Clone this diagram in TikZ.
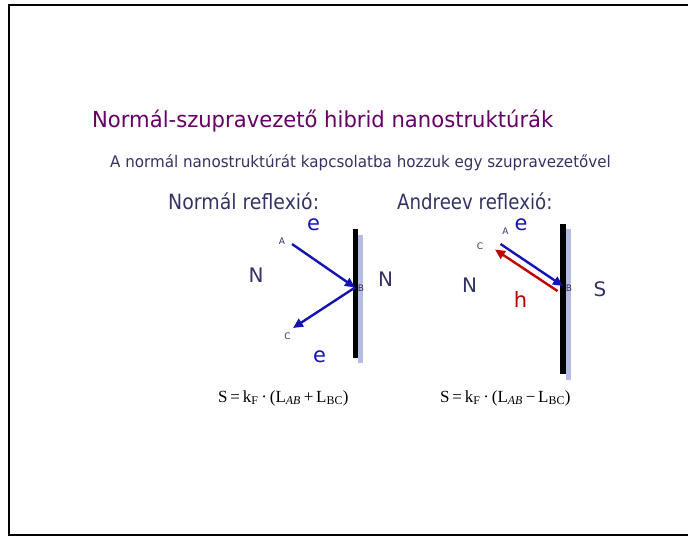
\documentclass[tikz,border=0pt]{standalone}
\usepackage{fontspec}
\usepackage{graphicx}
\setmainfont{DejaVu Sans}
\newfontfamily\serifmath{Liberation Serif}
\usetikzlibrary{arrows.meta}
\definecolor{titlepurple}{HTML}{660066}
\definecolor{slateblue}{HTML}{333366}
\definecolor{arrowblue}{HTML}{1414B4}
\definecolor{holered}{HTML}{C00000}
\definecolor{barblue}{HTML}{B4BCE4}
\tikzset{
  txt/.style={inner sep=0pt, anchor=base west, text=slateblue},
  ptlabel/.style={inner sep=0pt, text=slateblue, font=\fontsize{9}{10}\selectfont},
  region/.style={inner sep=0pt, text=slateblue, font=\fontsize{20}{22}\selectfont},
  particle/.style={inner sep=0pt, anchor=base, text height=1ex, text depth=0pt, font=\fontsize{21}{24}\selectfont},
  ray/.style={line width=2.4pt},
  formula/.style={inner sep=0pt, anchor=base west, font=\serifmath\fontsize{17}{19}\selectfont}
}
\begin{document}
\begin{tikzpicture}[x=1pt,y=-1pt]
\useasboundingbox (0,0) rectangle (688,536);
\fill[white] (0,0) rectangle (688,536);
% frame
\draw[line width=1.3pt] (688,5) -- (9,5) -- (9,535) -- (688,535);
% titles
\node[txt, text=titlepurple, font=\fontsize{22}{26}\selectfont] (title) at (92,127) {\scalebox{0.96}[1]{Normál-szupravezető hibrid nanostruktúrák}};
\node[txt, font=\fontsize{16}{18}\selectfont] (subtitle) at (110,167) {\scalebox{0.945}[1]{A normál nanostruktúrát kapcsolatba hozzuk egy szupravezetővel}};
\node[txt, font=\fontsize{21}{24}\selectfont] (normalhead) at (168,209) {\scalebox{0.9}[1]{Normál reflexió:}};
\node[txt, font=\fontsize{21}{24}\selectfont] (andreevhead) at (397,209.5) {\scalebox{0.866}[1]{Andreev reflexió:}};
% ---- left diagram
\fill[barblue] (357.5,235) rectangle (363,363);
\fill[black] (353,229) rectangle (357.5,358);
\coordinate (LA) at (292,244);
\coordinate (LB) at (355,287.5);
\coordinate (LC) at (293,328);
\node[ptlabel] (lAlab) at (282,241) {A};
\node[ptlabel] (lBlab) at (361,288) {B};
\node[ptlabel] (lClab) at (287.5,336) {C};
\draw[ray, draw=arrowblue, arrows={-{Triangle[length=10pt,width=9pt,fill=arrowblue]}}] (LA) -- (LB);
\draw[ray, draw=arrowblue, arrows={-{Triangle[length=10pt,width=9pt,fill=arrowblue]}}] (LB) -- (LC);
\node[particle, text=arrowblue] (le1) at (313.5,230.5) {e};
\node[particle, text=arrowblue] (le2) at (319.5,362) {e};
\node[region] (lN1) at (256,275) {N};
\node[region] (lN2) at (385.5,279) {N};
% ---- right diagram
\fill[barblue] (565.5,229) rectangle (571,380);
\fill[black] (560.3,224) rectangle (565.5,374);
\coordinate (RA) at (500.5,244);
\coordinate (RB) at (563,286);
\coordinate (RBh) at (557.5,291);
\coordinate (RC) at (495,249.5);
\node[ptlabel] (rAlab) at (505.5,231) {A};
\node[ptlabel] (rBlab) at (569,288.5) {B};
\node[ptlabel] (rClab) at (480,246) {C};
\draw[ray, draw=arrowblue, arrows={-{Triangle[length=10pt,width=9pt,fill=arrowblue]}}] (RA) -- (RB);
\draw[ray, draw=holered, arrows={-{Triangle[length=10pt,width=9pt,fill=holered]}}] (RBh) -- (RC);
\node[particle, text=arrowblue] (re) at (521,230.5) {e};
\node[particle, text=holered, text height=1.5ex] (rh) at (520.5,307) {h};
\node[region] (rN) at (469.5,285) {N};
\node[region] (rS) at (600,289.5) {S};
% ---- formulas
\node[formula] (lform) at (218,402) {S\,=\,k\textsubscript{F}\,·\,(L\textsubscript{\textit{AB}}\,+\,L\textsubscript{BC})};
\node[formula] (rform) at (440,402) {S\,=\,k\textsubscript{F}\,·\,(L\textsubscript{\textit{AB}}\,−\,L\textsubscript{BC})};
\end{tikzpicture}
\end{document}
